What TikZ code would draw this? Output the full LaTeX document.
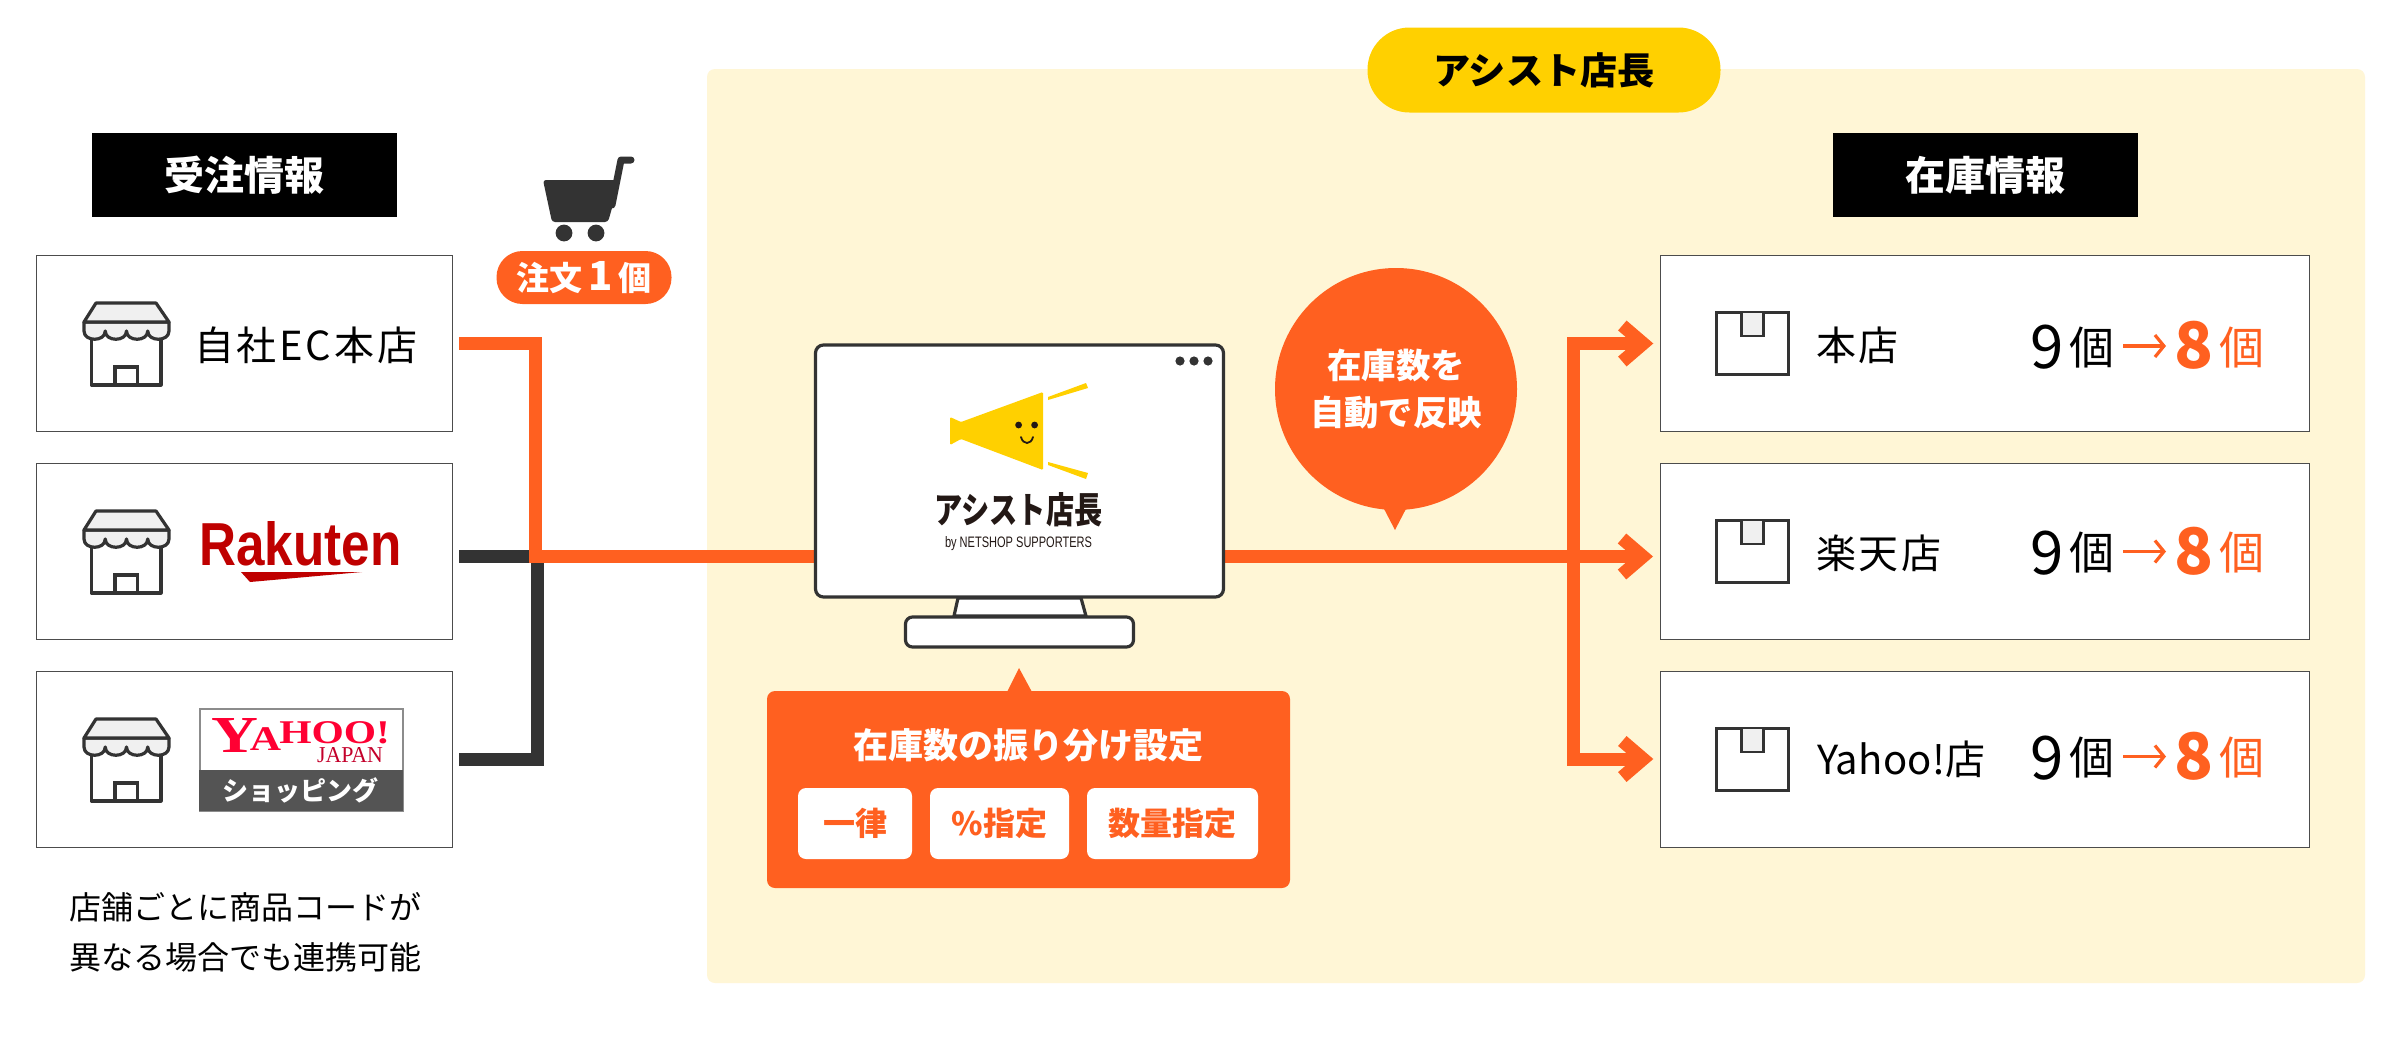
\documentclass[tikz,border=0pt]{standalone}
\usepackage{fontspec}
\usetikzlibrary{arrows.meta,calc}
\setmainfont{Noto Sans CJK JP}
\newfontfamily\jpt[LetterSpace=7]{Noto Sans CJK JP}
\newfontfamily\jpw[LetterSpace=1]{Noto Sans CJK JP}
\newfontfamily\lat{Liberation Sans}
\newfontfamily\yfont{Liberation Serif}
\definecolor{orangec}{HTML}{FF6020}
\definecolor{darkc}{HTML}{333333}
\definecolor{panelc}{HTML}{FFF6D6}
\definecolor{yellowc}{HTML}{FFD000}
\definecolor{iconfill}{HTML}{F0F0F0}
\definecolor{logoc}{HTML}{231815}
\definecolor{rakc}{HTML}{BF0000}
\definecolor{yahc}{HTML}{FF0033}
\definecolor{yahj}{HTML}{C4002B}
\newcommand{\fs}[1]{\fontsize{#1pt}{#1pt}\selectfont}
\tikzset{
  x=0.5pt,y=-0.5pt,
  txt/.style={inner sep=0pt,outer sep=0pt},
  storebox/.style={draw=black!70,line width=0.5pt,fill=white,minimum width=208.2pt,minimum height=88pt,inner sep=0pt,outer sep=0pt},
  stockbox/.style={draw=black!70,line width=0.5pt,fill=white,minimum width=324.7pt,minimum height=88pt,inner sep=0pt,outer sep=0pt},
  headbox/.style={fill=black,text=white,minimum width=152.5pt,minimum height=42pt,inner sep=0pt,outer sep=0pt,font=\fs{20}\bfseries},
  orangeline/.style={draw=orangec,line width=6.5pt},
  darkline/.style={draw=darkc,line width=6.5pt},
  bigarrow/.style={orangeline,-{Straight Barb[length=10.5pt,width=18pt,line width=6.5pt]},shorten >=3.5pt},
  thinarrow/.style={draw=orangec,line width=1.6pt,-{Straight Barb[length=4.5pt,width=11pt,line width=1.6pt]}},
  pickbtn/.style={fill=white,rounded corners=4pt,text=orangec,minimum height=35.5pt,inner sep=0pt,outer sep=0pt,font=\fs{16}\bfseries},
  pics/shopicon/.style={code={
    \draw[darkc,line width=1.6pt,line join=round,fill=white] (7.5,34) -- (7.5,83) -- (77,83) -- (77,34);
    \draw[darkc,line width=1.6pt] (31,83) -- (31,65) -- (53.5,65) -- (53.5,83);
    \draw[darkc,line width=1.6pt,line join=round,fill=iconfill] (0,20) -- (0,29)
      .. controls (0,40) and (21.25,40) .. (21.25,29)
      .. controls (21.25,40) and (42.5,40) .. (42.5,29)
      .. controls (42.5,40) and (63.75,40) .. (63.75,29)
      .. controls (63.75,40) and (85,40) .. (85,29) -- (85,20) -- cycle;
    \draw[darkc,line width=1.6pt,line join=round,fill=iconfill] (12,1) -- (72,1) -- (85,20) -- (0,20) -- cycle;
  }},
  pics/boxicon/.style={code={
    \draw[darkc,line width=1.6pt,fill=white] (1.5,1.5) rectangle (73.5,63.5);
    \draw[darkc,line width=1.3pt,fill=iconfill] (26.5,1.5) -- (26.5,25) -- (48.5,25) -- (48.5,1.5);
  }},
}
\begin{document}
\begin{tikzpicture}
\useasboundingbox (0,0) rectangle (2400,1045);
\fill[white] (0,0) rectangle (2400,1045);

% panel
\fill[panelc,rounded corners=4pt] (707,69) rectangle (2365,983);
\node[fill=yellowc,rounded corners=21pt,minimum width=176.5pt,minimum height=42.5pt,inner sep=0pt,font=\fs{18.6}\bfseries] (title) at (1544,70) {アシスト店長};

% headers
\node[headbox] (hleft) at (244.5,175) {\raisebox{0.8pt}{受注情報}};
\node[headbox] (hright) at (1985,175) {\raisebox{0.8pt}{在庫情報}};

% connector coordinates
\coordinate (ecout) at (459,343.5);
\coordinate (rakout) at (459,556.5);
\coordinate (yout) at (459,759.5);
\coordinate (jd) at (537,556.5);
\coordinate (jo) at (535.5,556.5);
\coordinate (monl) at (814,556.5);
\coordinate (monr) at (1225,556.5);
\coordinate (jr) at (1573,556.5);
\coordinate (k2in) at (1660,556.5);

% left store boxes
\node[storebox] (ec) at (244.5,343.5) {};
\node[storebox] (rak) at (244.5,551.5) {};
\node[storebox] (yah) at (244.5,759) {};
\pic at (84,302) {shopicon};
\pic at (84,510) {shopicon};
\pic at (84,718) {shopicon};
\node[txt,anchor=west,font=\fs{20}\jpt] (ectext) at (194,345) {自社EC本店};

% Rakuten
\node[txt,text=rakc] (raklogo) at (300.5,544) {\resizebox{101pt}{22pt}{\lat\bfseries Rakuten}};
\fill[rakc] (241,572) -- (362,572) -- (250,582) -- cycle;

% Yahoo
\node[draw=black!45,line width=1pt,fill=white,minimum width=101.5pt,minimum height=51pt,inner sep=0pt,outer sep=0pt] (yahbox) at (301,759.5) {};
\fill[black!67] (199,770) rectangle (403,811);
\node[txt,text=yahc] (yahlogo) at (301,735) {\resizebox{89pt}{17pt}{\yfont\bfseries\fs{36}Y\kern-5pt\raisebox{1pt}{\fs{24}A}\kern-1pt\raisebox{6pt}{\fs{23}HOO!}}};
\node[txt,text=yahj] (yahjp) at (350,755.5) {\resizebox{33pt}{7.5pt}{\yfont JAPAN}};
\node[txt,text=white] (yahshop) at (300.5,790) {\resizebox{78pt}{!}{\fs{13}\bfseries ショッピング}};

% left note
\node[txt,align=center,font=\fontsize{16pt}{25pt}\selectfont] (note) at (245,932) {店舗ごとに商品コードが\\異なる場合でも連携可能};

% cart
\fill[darkc,rounded corners=1.5pt] (543,180) -- (620,180) -- (608,222) -- (552,222) -- cycle;
\draw[darkc,line width=3.5pt,line join=round,line cap=round] (612,205) -- (621,160) -- (631,160);
\fill[darkc] (564,233) circle (4.2pt);
\fill[darkc] (596,233) circle (4.2pt);
\node[fill=orangec,text=white,rounded corners=13pt,minimum width=87.5pt,minimum height=26.5pt,inner sep=0pt,font=\fs{16.5}\bfseries] (order) at (584,277.5) {注文\hspace{3pt}{\fs{20}1}\hspace{3pt}個};

% dark connectors
\draw[darkline] (yout) -| (jd);
\draw[darkline] (rakout) -- (jd);
% orange connectors
\draw[orangeline] (ecout) -| (jo) -- (monl);
\draw[bigarrow] (monr) -- (k2in);

% right stock boxes
\node[stockbox] (k1) at (1985,343.5) {};
\node[stockbox] (k2) at (1985,551.5) {};
\node[stockbox] (k3) at (1985,759) {};
\draw[bigarrow] (jr) |- (k1.west);
\draw[bigarrow] (jr) |- (k3.west);
\pic at (1715,311) {boxicon};
\pic at (1715,519) {boxicon};
\pic at (1715,727) {boxicon};
\node[txt,anchor=west,font=\fs{20}\jpt] (s1) at (1816,345) {本店};
\node[txt,anchor=west,font=\fs{20}\jpt] (s2) at (1816,553) {楽天店};
\node[txt,anchor=west,font=\fs{20}\jpw] (s3) at (1817,759) {Yahoo!店};

\foreach \n/\yy in {1/347.5,2/553,3/758}{
  \node[txt,font=\fs{30}] (nine\n) at (2047,\yy) {9};
  \node[txt,font=\fs{22.5}] (ko\n) at (2091.5,\yy) {個};
  \node[txt,text=orangec,font=\fs{32}\bfseries] (eight\n) at (2194,\yy-2) {8};
  \node[txt,text=orangec,font=\fs{22.5}] (kob\n) at (2242,\yy) {個};
  \coordinate (ar\n a) at (2123,\yy-1.5);
  \coordinate (ar\n b) at (2166,\yy-1.5);
  \draw[thinarrow] (ar\n a) -- (ar\n b);
}

% monitor
\draw[darkc,line width=1.6pt,fill=white,line join=round] (958,598) -- (954,616) -- (1086,616) -- (1081,598) -- cycle;
\node[draw=darkc,line width=1.6pt,fill=white,rounded corners=4pt,minimum width=204pt,minimum height=126pt,inner sep=0pt,outer sep=0pt] (mon) at (1019.5,471) {};
\node[draw=darkc,line width=1.6pt,fill=white,rounded corners=3.5pt,minimum width=114pt,minimum height=15pt,inner sep=0pt,outer sep=0pt] (monbase) at (1019.5,632) {};
\fill[darkc] (1180,361) circle (2.3pt) (1194,361) circle (2.3pt) (1208,361) circle (2.3pt);

% logo
\fill[yellowc,rounded corners=0.6pt] (950,417) -- (961,422) -- (1043,392) -- (1043,470) -- (961,439) -- (950,445) -- cycle;
\fill[logoc] (1018.6,425) circle (1.7pt) (1034.6,425) circle (1.7pt);
\draw[logoc,line width=0.9pt,line cap=round] (1021,437) .. controls (1023,445) and (1031,445) .. (1033,437);
\fill[yellowc] (1048,397) -- (1086,383) -- (1088,388) -- (1048,400) -- cycle;
\fill[yellowc] (1048,462) -- (1088,473) -- (1086,479) -- (1048,465) -- cycle;
\node[txt,text=logoc] (logotext) at (1018.5,510) {\resizebox{84pt}{15.5pt}{\fs{18}\bfseries アシスト店長}};
\node[txt,text=logoc] (logosub) at (1018.5,544) {\resizebox{73.5pt}{5.5pt}{\lat by NETSHOP SUPPORTERS}};

% callout
\fill[orangec] (1382,505) -- (1395,530) -- (1408,505) -- cycle;
\node[circle,fill=orangec,text=white,minimum size=121pt,inner sep=0pt,align=center,font=\fontsize{17.2pt}{23.5pt}\selectfont\bfseries] (call) at (1396,389) {在庫数を\\自動で反映};

% setting panel
\fill[orangec] (1007,692) -- (1019,668) -- (1032,692) -- cycle;
\node[fill=orangec,rounded corners=4pt,minimum width=261.5pt,minimum height=98.5pt,inner sep=0pt,outer sep=0pt] (setp) at (1028.5,789.5) {};
\node[txt,text=white,font=\fs{17.5}\bfseries] (settitle) at (1028,745) {在庫数の振り分け設定};
\node[pickbtn,minimum width=57pt] (b1) at (855,823.5) {\raisebox{-1.2pt}{一律}};
\node[pickbtn,minimum width=69.5pt] (b2) at (999.5,823.5) {\raisebox{-1.2pt}{\%指定}};
\node[pickbtn,minimum width=85.5pt] (b3) at (1172.5,823.5) {\raisebox{-1.2pt}{数量指定}};
\end{tikzpicture}
\end{document}
